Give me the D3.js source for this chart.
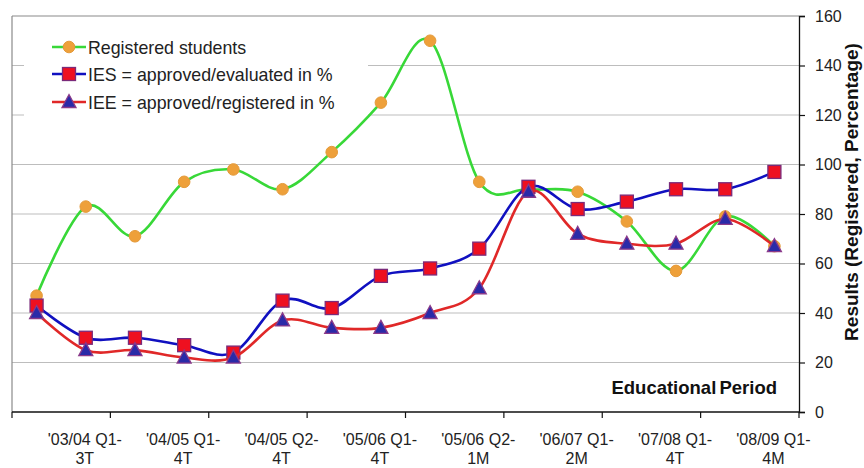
<!DOCTYPE html>
<html>
<head>
<meta charset="utf-8">
<script src="https://cdn.jsdelivr.net/npm/d3@7"></script>
<style>
  html, body { margin: 0; padding: 0; background: #fff; }
  svg { display: block; font-family: "Liberation Sans", Arial, sans-serif; }
</style>
</head>
<body>
<svg id="chart" width="864" height="468"></svg>
<script>
// ---- data ----
const categories = [
  "'03/04 Q1-2T", "'03/04 Q1-3T", "'03/04 Q2-4T", "'04/05 Q1-4T",
  "'04/05 Q1-5T", "'04/05 Q2-4T", "'05/06 Q1-3T", "'05/06 Q1-4T",
  "'05/06 Q2-4T", "'05/06 Q2-1M", "'06/07 Q1-1M", "'06/07 Q1-2M",
  "'07/08 Q1-3T", "'07/08 Q1-4T", "'08/09 Q1-3M", "'08/09 Q1-4M"
];
const registered = [47, 83, 71, 93, 98, 90, 105, 125, 150, 93, 90, 89, 77, 57, 79, 67];
const ies = [43, 30, 30, 27, 24, 45, 42, 55, 58, 66, 91, 82, 85, 90, 90, 97];
const iee = [40, 25, 25, 22, 22, 37, 34, 34, 40, 50, 89, 72, 68, 68, 78, 67];
const yTicks = [0, 20, 40, 60, 80, 100, 120, 140, 160];
const seriesNames = ["Registered students", "IES = approved/evaluated in %", "IEE = approved/registered in %"];
const xTitle = "Educational Period";
const yTitle = "Results (Registered, Percentage)";

// ---- layout ----
const L = 12, R = 799, T = 16, B = 412;
const svg = d3.select("#chart");

const x = d3.scaleBand().domain(categories).range([L, R]).paddingInner(0).paddingOuter(0);
const bw = x.bandwidth();
const cx = c => x(c) + bw / 2;
const y = d3.scaleLinear().domain([0, 160]).range([B, T]);

// gridlines
svg.append("g").selectAll("line").data(yTicks.filter(v => v > 0 && v < 160)).join("line")
  .attr("x1", L).attr("x2", R).attr("y1", d => y(d)).attr("y2", d => y(d))
  .attr("stroke", "#bdbdbd").attr("stroke-width", 1.2);

// plot border top & left (gray)
svg.append("line").attr("x1", L).attr("x2", R).attr("y1", y(160)).attr("y2", y(160))
  .attr("stroke", "#8a8a8a").attr("stroke-width", 1.2);
svg.append("line").attr("x1", L).attr("x2", L).attr("y1", y(160)).attr("y2", B)
  .attr("stroke", "#8a8a8a").attr("stroke-width", 1.2);

// legend background (covers gridlines)
const lgX = 24, lgY = 26, lgW = 344, lgH = 100;
svg.append("rect").attr("x", lgX).attr("y", lgY).attr("width", lgW).attr("height", lgH).attr("fill", "#fff");

// right axis
const yAxis = d3.axisRight(y).tickValues(yTicks).tickSize(6).tickPadding(10);
const gy = svg.append("g").attr("transform", `translate(${R},0)`).call(yAxis);
gy.select(".domain").attr("stroke", "#111").attr("stroke-width", 1.3);
gy.selectAll(".tick line").attr("stroke", "#111").attr("stroke-width", 1.2);
gy.selectAll(".tick text").attr("font-size", 16).attr("fill", "#222")
  .attr("font-family", "'Liberation Sans', Arial, sans-serif");

// bottom axis
svg.append("line").attr("x1", L).attr("x2", R).attr("y1", B).attr("y2", B)
  .attr("stroke", "#111").attr("stroke-width", 1.3);
const boundaries = d3.range(0, categories.length + 1, 2);
svg.append("g").selectAll("line").data(boundaries).join("line")
  .attr("x1", i => L + i * bw).attr("x2", i => L + i * bw)
  .attr("y1", B).attr("y2", B + 6)
  .attr("stroke", "#111").attr("stroke-width", 1.2);

const labelCats = categories.filter((c, i) => i % 2 === 1);
const lbl = svg.append("g").selectAll("text").data(labelCats).join("text")
  .attr("text-anchor", "middle").attr("font-size", 16).attr("fill", "#222")
  .attr("transform", d => `translate(${cx(d) - 1},0)`);
lbl.each(function(d) {
  const k = d.lastIndexOf("-");
  const t = d3.select(this);
  t.append("tspan").attr("x", 0).attr("y", 445).text(d.slice(0, k + 1));
  t.append("tspan").attr("x", 0).attr("y", 464).text(d.slice(k + 1));
});

// titles
svg.append("text").attr("x", 777).attr("y", 394).attr("text-anchor", "end")
  .attr("font-size", 18.5).attr("font-weight", "bold").attr("fill", "#111")
  .attr("word-spacing", -2).text(xTitle);
svg.append("text").attr("transform", `translate(858,${(T + B) / 2 - 22}) rotate(-90)`)
  .attr("text-anchor", "middle").attr("font-size", 19).attr("font-weight", "bold")
  .attr("fill", "#111").text(yTitle);

// series
const curve = d3.curveCardinal.tension(0);
const line = d3.line().x((d, i) => cx(categories[i])).y(d => y(d)).curve(curve);

const styles = [
  { data: registered, color: "#38d838", marker: "circle", fill: "#eea03a", stroke: "#e49a3a" },
  { data: ies, color: "#1010c0", marker: "square", fill: "#ee1020", stroke: "#7a2a7a" },
  { data: iee, color: "#e02828", marker: "triangle", fill: "#2a2aa8", stroke: "#8a3a8a" }
];

function drawMarker(g, type, s, fill, stroke) {
  if (type === "circle") {
    g.append("circle").attr("r", 5.8).attr("fill", fill).attr("stroke", stroke).attr("stroke-width", 1);
  } else if (type === "square") {
    g.append("rect").attr("x", -6.5).attr("y", -6.5).attr("width", 13).attr("height", 13)
      .attr("fill", fill).attr("stroke", stroke).attr("stroke-width", 1.3);
  } else {
    g.append("path").attr("d", "M0,-7.5L7,5.5L-7,5.5Z")
      .attr("fill", fill).attr("stroke", stroke).attr("stroke-width", 1.3);
  }
}

styles.forEach(st => {
  svg.append("path").datum(st.data).attr("d", line)
    .attr("fill", "none").attr("stroke", st.color).attr("stroke-width", 2.6);
  const mg = svg.append("g");
  st.data.forEach((v, i) => {
    const g = mg.append("g").attr("transform", `translate(${cx(categories[i])},${y(v)})`);
    drawMarker(g, st.marker, 0, st.fill, st.stroke);
  });
});

// legend
const legY = [47, 74, 102];
styles.forEach((st, i) => {
  const g = svg.append("g").attr("transform", `translate(0,${legY[i]})`);
  g.append("line").attr("x1", 52).attr("x2", 86).attr("y1", 0).attr("y2", 0)
    .attr("stroke", st.color).attr("stroke-width", 2.6);
  const m = g.append("g").attr("transform", "translate(69,0)");
  drawMarker(m, st.marker, 0, st.fill, st.stroke);
  g.append("text").attr("x", 88).attr("y", 6.5).attr("font-size", 17.8).attr("fill", "#222").text(seriesNames[i]);
});
</script>
</body>
</html>
